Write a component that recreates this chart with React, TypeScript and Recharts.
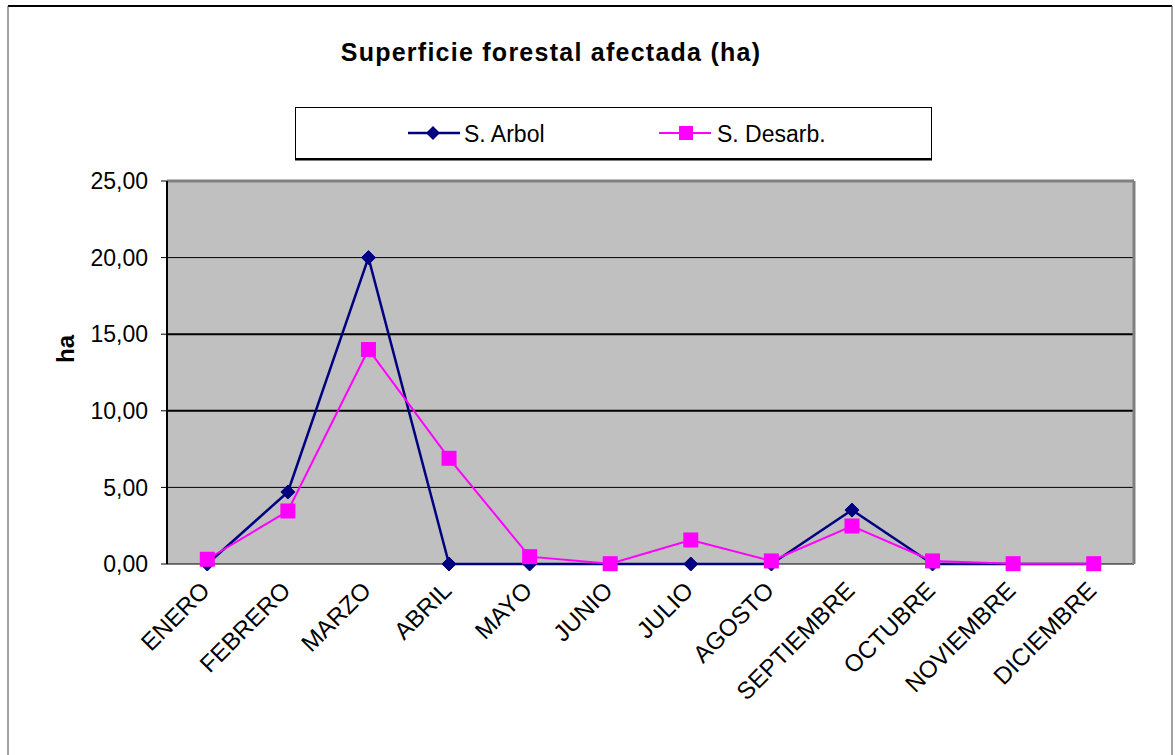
import React from 'react';
import { LineChart, Line, XAxis, YAxis, CartesianGrid, ReferenceLine } from 'recharts';

const MONTHS = ['ENERO', 'FEBRERO', 'MARZO', 'ABRIL', 'MAYO', 'JUNIO', 'JULIO', 'AGOSTO', 'SEPTIEMBRE', 'OCTUBRE', 'NOVIEMBRE', 'DICIEMBRE'];
const ARBOL = [0, 4.7, 20.0, 0, 0, 0, 0, 0, 3.52, 0, 0, 0];
const DESARB = [0.31, 3.46, 14.0, 6.9, 0.48, 0.02, 1.57, 0.2, 2.48, 0.2, 0.02, 0.02];
const Y_TICKS = [0, 5, 10, 15, 20, 25];
const BOUNDARY_TICKS = [0, 1, 2, 3, 4, 5, 6, 7, 8, 9, 10, 11, 12];
const CENTER_TICKS = MONTHS.map((_, i) => i + 0.5);

const TITLE = 'Superficie forestal afectada (ha)';
const Y_LABEL = 'ha';
const SERIES_NAMES = ['S. Arbol', 'S. Desarb.'];

const data = MONTHS.map((m, i) => ({ month: m, pos: i + 0.5, arbol: ARBOL[i], desarb: DESARB[i] }));

const FONT = '"Liberation Sans", Arial, sans-serif';
const NAVY = '#000080';
const MAGENTA = '#FF00FF';

const Diamond = (props: any) => {
  const { cx, cy, index } = props;
  if (cx == null || cy == null) return null;
  const r = 7;
  return <polygon key={`d${index}`} points={`${cx},${cy - r} ${cx + r},${cy} ${cx},${cy + r} ${cx - r},${cy}`} fill={NAVY} stroke={NAVY} />;
};

const Square = (props: any) => {
  const { cx, cy, index } = props;
  if (cx == null || cy == null) return null;
  const s = 15;
  return <rect key={`s${index}`} x={cx - s / 2} y={cy - s / 2} width={s} height={s} fill={MAGENTA} />;
};

const MonthTick = (props: any) => {
  const { x, y, payload } = props;
  const label = MONTHS[Math.floor(payload.value)];
  return (
    <g transform={`translate(${x + 4},${y + 20}) rotate(-45)`}>
      <text x={0} y={0} textAnchor="end" fontFamily={FONT} fontSize={24} fill="#000">
        {label}
      </text>
    </g>
  );
};

const GridLine = (props: any) => {
  const { x1, x2, y1, y2, index } = props;
  const thick = index === 2 || index === 3;
  return <line key={`g${index}`} x1={x1} x2={x2} y1={y1} y2={y2} stroke="#000" strokeWidth={thick ? 2 : 1} />;
};

export default function App() {
  return (
    <div style={{ position: 'absolute', left: 0, top: 0, width: 1175, height: 755, background: '#fff' }}>
      <div style={{ position: 'absolute', left: 0, top: 0 }}>
        <LineChart width={1175} height={755} data={data} margin={{ top: 181, right: 41, left: 87, bottom: 91 }}>
          <CartesianGrid xAxisId="a" vertical={false} horizontal={GridLine} fill="#C0C0C0" stroke="#000" strokeOpacity={1} />
          <XAxis
            xAxisId="b"
            type="number"
            dataKey="pos"
            domain={[0, 12]}
            ticks={BOUNDARY_TICKS}
            height={0}
            tickSize={7}
            tickFormatter={() => ''}
            axisLine={{ stroke: '#000', strokeWidth: 2 }}
            tickLine={{ stroke: '#000', strokeWidth: 1.5 }}
          />
          <XAxis
            xAxisId="a"
            type="number"
            dataKey="pos"
            domain={[0, 12]}
            ticks={CENTER_TICKS}
            height={100}
            axisLine={false}
            tickLine={false}
            tick={<MonthTick />}
            interval={0}
          />
          <YAxis
            type="number"
            domain={[0, 25]}
            ticks={Y_TICKS}
            width={80}
            tickSize={6}
            tickMargin={13}
            axisLine={{ stroke: '#000', strokeWidth: 2 }}
            tickLine={{ stroke: '#000' }}
            tick={{ fill: '#000', fontSize: 23, fontFamily: FONT }}
            tickFormatter={(v: number) => v.toFixed(2).replace('.', ',')}
          />
          <ReferenceLine xAxisId="a" y={25} stroke="#808080" strokeWidth={3} />
          <ReferenceLine xAxisId="a" x={12} stroke="#808080" strokeWidth={3} />
          <Line xAxisId="a" type="linear" dataKey="arbol" stroke={NAVY} strokeWidth={2.5} dot={<Diamond />} isAnimationActive={false} />
          <Line xAxisId="a" type="linear" dataKey="desarb" stroke={MAGENTA} strokeWidth={2} dot={<Square />} isAnimationActive={false} />
        </LineChart>
      </div>
      <svg width={1175} height={755} style={{ position: 'absolute', left: 0, top: 0, pointerEvents: 'none' }}>
        <line x1={8} y1={6} x2={1172} y2={6} stroke="#000" strokeWidth={2} />
        <line x1={8} y1={6} x2={8} y2={755} stroke="#444" strokeWidth={1} />
        <line x1={1172} y1={6} x2={1172} y2={755} stroke="#444" strokeWidth={1} />
        <text x={551} y={61} textAnchor="middle" fontFamily={FONT} fontWeight="bold" fontSize={25} letterSpacing={1.25} fill="#000">
          {TITLE}
        </text>
        <text transform="translate(74,349) rotate(-90)" textAnchor="middle" fontFamily={FONT} fontWeight="bold" fontSize={24} fill="#000">
          {Y_LABEL}
        </text>
        <rect x={295.5} y={107.5} width={636} height={51} fill="#fff" stroke="#000" strokeWidth={1} />
        <line x1={295} y1={159.5} x2={932} y2={159.5} stroke="#000" strokeWidth={2} />
        <line x1={408} y1={133} x2={460} y2={133} stroke={NAVY} strokeWidth={2.5} />
        <polygon points="433,126 440,133 433,140 426,133" fill={NAVY} />
        <text x={464} y={142} fontFamily={FONT} fontSize={23} fill="#000">{SERIES_NAMES[0]}</text>
        <line x1={659} y1={133} x2={711} y2={133} stroke={MAGENTA} strokeWidth={2} />
        <rect x={679} y={126} width={14} height={14} fill={MAGENTA} />
        <text x={717} y={142} fontFamily={FONT} fontSize={23} fill="#000">{SERIES_NAMES[1]}</text>
      </svg>
    </div>
  );
}
